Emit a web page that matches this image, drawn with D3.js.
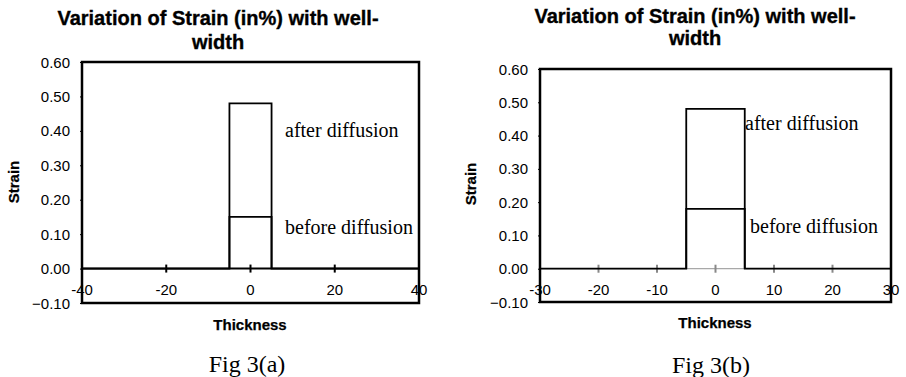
<!DOCTYPE html>
<html>
<head>
<meta charset="utf-8">
<script src="https://cdn.jsdelivr.net/npm/d3@7"></script>
<style>
  html, body { margin: 0; padding: 0; background: #fff; }
  svg { display: block; }
  .sans { font-family: "Liberation Sans", Arial, sans-serif; }
  .serif { font-family: "Liberation Serif", "Times New Roman", serif; }
</style>
</head>
<body>
<svg id="chart" width="906" height="377"></svg>
<script>
// ---- data ----
const titleLines = ["Variation of Strain (in%) with well-", "width"];
const yTicks = [0.60, 0.50, 0.40, 0.30, 0.20, 0.10, 0.00, -0.10];

// Fig 3(a)
const xDomainA = [-40, 40];
const xTicksA = [-40, -20, 0, 20, 40];
const thicknessAfterA = [-40, -5, -5, 5, 5, 40];
const strainAfterA = [0, 0, 0.48, 0.48, 0, 0];
const thicknessBeforeA = [-5, -5, 5, 5];
const strainBeforeA = [0, 0.15, 0.15, 0];

// Fig 3(b)
const xDomainB = [-30, 30];
const xTicksB = [-30, -20, -10, 0, 10, 20, 30];
const thicknessAfterB = [-30, -5, -5, 5, 5, 30];
const strainAfterB = [0, 0, 0.48, 0.48, 0, 0];
const thicknessBeforeB = [-5, -5, 5, 5];
const strainBeforeB = [0, 0.18, 0.18, 0];

const annotations = ["after diffusion", "before diffusion"];
const captions = ["Fig 3(a)", "Fig 3(b)"];

// ---- layout per panel ----
const panels = [
  {
    xDomain: xDomainA, xTicks: xTicksA,
    after: thicknessAfterA.map((t, i) => [t, strainAfterA[i]]),
    before: thicknessBeforeA.map((t, i) => [t, strainBeforeA[i]]),
    caption: captions[0],
    box: { left: 82, right: 419, top: 62, bottom: 303 },
    titleX: 218, titleY: [25, 49],
    yLabelX: 19, yLabelY: 182,
    xLabelX: 250, xLabelY: 330,
    captionX: 247, captionY: 372,
    tickLabelY: 295,
    ann: [{ x: 285, y: 137 }, { x: 285, y: 234 }],
    axisColor: "#000", axisWidth: 2, tickColor: "#000"
  },
  {
    xDomain: xDomainB, xTicks: xTicksB,
    after: thicknessAfterB.map((t, i) => [t, strainAfterB[i]]),
    before: thicknessBeforeB.map((t, i) => [t, strainBeforeB[i]]),
    caption: captions[1],
    box: { left: 540, right: 891, top: 69, bottom: 302 },
    titleX: 695, titleY: [23, 45],
    yLabelX: 476, yLabelY: 184,
    xLabelX: 715, xLabelY: 328,
    captionX: 711, captionY: 373,
    tickLabelY: 295,
    ann: [{ x: 745, y: 130 }, { x: 750, y: 233 }],
    axisColor: "#a8a8a8", axisWidth: 1.2, tickColor: "#888"
  }
];

const svg = d3.select("#chart");
const fmt = d3.format(".2f");

panels.forEach(p => {
  const g = svg.append("g");
  const x = d3.scaleLinear().domain(p.xDomain).range([p.box.left, p.box.right]);
  const y = d3.scaleLinear().domain([-0.1, 0.6]).range([p.box.bottom, p.box.top]);

  // title
  g.append("text").attr("class", "sans")
    .attr("text-anchor", "middle")
    .attr("font-weight", "bold").attr("font-size", 20)
    .attr("stroke", "#000").attr("stroke-width", 0.35)
    .selectAll("tspan").data(titleLines).join("tspan")
    .attr("x", p.titleX).attr("y", (d, i) => p.titleY[i])
    .text(d => d);

  // y axis ticks and labels (left edge of the frame)
  const yAxis = d3.axisLeft(y).tickValues(yTicks).tickFormat(fmt)
    .tickSize(2).tickPadding(10);
  const ya = g.append("g").attr("transform", `translate(${p.box.left},0)`).call(yAxis);
  ya.select(".domain").remove();
  ya.selectAll("line").attr("stroke", "#000").attr("stroke-width", 1);
  ya.selectAll("text").attr("class", "sans").attr("font-size", 15)
    .attr("fill", "#000").attr("dy", "0.34em");

  // x tick labels below the zero line
  g.append("g").selectAll("text").data(p.xTicks).join("text")
    .attr("class", "sans").attr("font-size", 15)
    .attr("text-anchor", "middle")
    .attr("x", d => x(d)).attr("y", p.tickLabelY)
    .text(d => d);

  // zero axis with crossing tick marks
  g.append("line")
    .attr("x1", x(p.xDomain[0])).attr("x2", x(p.xDomain[1]))
    .attr("y1", y(0)).attr("y2", y(0))
    .attr("stroke", p.axisColor).attr("stroke-width", p.axisWidth);
  g.append("g").selectAll("line").data(p.xTicks.slice(1, -1)).join("line")
    .attr("x1", d => x(d)).attr("x2", d => x(d))
    .attr("y1", y(0) - 4).attr("y2", y(0) + 4)
    .attr("stroke", p.tickColor)
    .attr("stroke-width", 2);

  // strain profiles
  const line = d3.line().x(d => x(d[0])).y(d => y(d[1]));
  g.append("path").datum(p.after).attr("d", line)
    .attr("fill", "none").attr("stroke", "#000").attr("stroke-width", 1.8);
  g.append("path").datum(p.before).attr("d", line)
    .attr("fill", "none").attr("stroke", "#000").attr("stroke-width", 1.8);

  // plot frame
  g.append("rect")
    .attr("x", p.box.left).attr("y", p.box.top)
    .attr("width", p.box.right - p.box.left)
    .attr("height", p.box.bottom - p.box.top)
    .attr("fill", "none").attr("stroke", "#000").attr("stroke-width", 2.5);

  // annotations
  g.append("g").selectAll("text").data(annotations).join("text")
    .attr("class", "serif").attr("font-size", 20)
    .attr("x", (d, i) => p.ann[i].x).attr("y", (d, i) => p.ann[i].y)
    .text(d => d);

  // axis titles
  g.append("text").attr("class", "sans")
    .attr("font-weight", "bold").attr("font-size", 15)
    .attr("stroke", "#000").attr("stroke-width", 0.25)
    .attr("text-anchor", "middle")
    .attr("transform", `translate(${p.yLabelX},${p.yLabelY}) rotate(-90)`)
    .text("Strain");
  g.append("text").attr("class", "sans")
    .attr("font-weight", "bold").attr("font-size", 15)
    .attr("stroke", "#000").attr("stroke-width", 0.25)
    .attr("text-anchor", "middle")
    .attr("x", p.xLabelX).attr("y", p.xLabelY)
    .text("Thickness");

  // figure caption
  g.append("text").attr("class", "serif").attr("font-size", 24)
    .attr("text-anchor", "middle")
    .attr("x", p.captionX).attr("y", p.captionY)
    .text(p.caption);
});
</script>
</body>
</html>
